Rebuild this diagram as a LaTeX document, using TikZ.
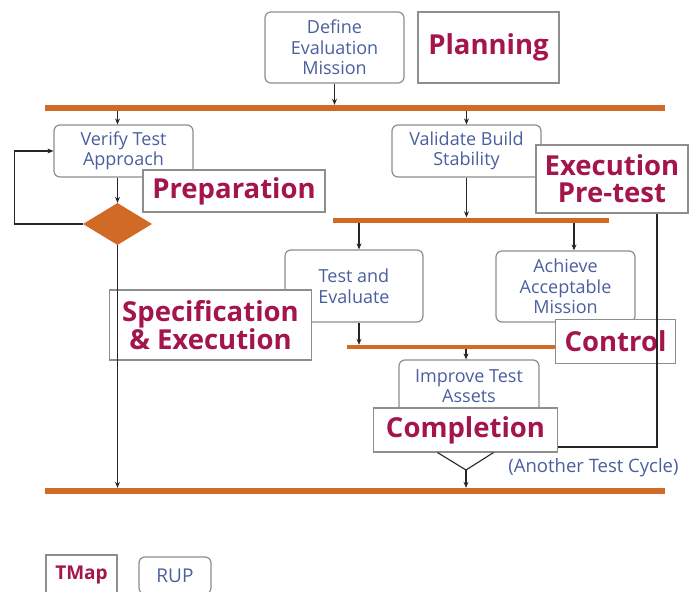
\documentclass[tikz,border=0pt]{standalone}
\usepackage{fontspec}
\setmainfont{Open Sans}
\usetikzlibrary{shapes.geometric,arrows.meta}
\definecolor{bar}{HTML}{D06A24}
\definecolor{phase}{HTML}{A3154B}
\definecolor{rup}{HTML}{4A5FA0}
\definecolor{edge}{HTML}{8E8E8E}
\begin{document}
\begin{tikzpicture}[x=1pt,y=-1pt,
  act/.style={draw=edge,line width=1.2pt,rounded corners=6pt,fill=white,align=center,
    text=rup,font=\fontsize{18}{20.5}\selectfont,inner sep=0pt},
  phasebox/.style={draw=edge,line width=1.1pt,fill=white,align=center,text=phase,
    font=\fontsize{27.5}{27}\selectfont\bfseries,inner sep=0pt},
  forkbar/.style={fill=bar,draw=none,inner sep=0pt,minimum height=6pt},
  flow/.style={line width=1.1pt,draw=black!85,-{Stealth[length=6pt,width=5pt]}},
  plain/.style={line width=1.1pt,draw=black!85}]
\useasboundingbox (0,0) rectangle (689,592);
\fill[white] (0,0) rectangle (689,592);

% bars
\node[forkbar,minimum width=620pt] (topbar) at (355,108) {};
\node[forkbar,minimum width=276pt,minimum height=5pt] (midbar) at (471,220) {};
\node[forkbar,minimum width=253pt,minimum height=4pt] (bar2) at (473.5,347) {};
\node[forkbar,minimum width=620pt] (botbar) at (355,491) {};

% activity boxes
\node[act,minimum width=139pt,minimum height=71pt] (define) at (334.5,47.5) {Define\\Evaluation\\Mission};
\node[act,minimum width=139pt,minimum height=52pt] (verify) at (123.5,151) {Verify Test\\Approach};
\node[act,minimum width=149pt,minimum height=52pt] (validate) at (466.5,151) {Validate Build\\Stability};
\node[act,minimum width=138pt,minimum height=72pt] (test) at (354,286) {Test and\\Evaluate};
\node[act,minimum width=139pt,minimum height=71pt] (achieve) at (565.5,286.5) {Achieve\\Acceptable\\Mission};
\node[act,minimum width=140pt,minimum height=52pt] (improve) at (469,386) {Improve Test\\Assets};

\node[diamond,fill=bar,draw=none,minimum width=69pt,minimum height=42pt,inner sep=0pt] (dec) at (117.5,224) {};

% phase boxes
\node[phasebox,minimum width=141pt,minimum height=71pt] (planning) at (488.5,47.5) {Planning};
\node[phasebox,minimum width=182pt,minimum height=42pt] (prep) at (234,191) {Preparation};
\node[phasebox,minimum width=152pt,minimum height=68pt] (exec) at (612,179) {Execution\\Pre-test};
\node[phasebox,minimum width=202pt,minimum height=70pt] (spec) at (210.5,325) {Specification\\\& Execution};
\node[phasebox,minimum width=120pt,minimum height=44pt] (control) at (615.5,341.5) {Control};
\node[phasebox,minimum width=184pt,minimum height=44pt] (completion) at (465.5,430) {Completion};

\node[text=rup,font=\fontsize{18.5}{20}\selectfont,inner sep=0pt] (cycle) at (593.5,468) {(Another Test Cycle)};

% connectors
\draw[flow] (define.south) -- (define.south |- topbar.north);
\draw[flow] (topbar.south -| dec) -- (verify.north -| dec);
\draw[flow] (verify.south -| dec) -- (dec.north);
\draw[flow] (dec.west) -- ++(-68,0) |- (verify.west);
\draw[flow] (dec.south) -- (botbar.north -| dec);
\draw[flow] (topbar.south -| validate) -- (validate.north);
\draw[flow] (validate.south) -- (midbar.north -| validate);
\coordinate (ta) at (359,0);
\coordinate (aa) at (574,0);
\draw[flow] (midbar.south -| ta) -- (test.north -| ta);
\draw[flow] (midbar.south -| aa) -- (achieve.north -| aa);
\draw[flow] (test.south -| ta) -- (bar2.north -| ta);
\coordinate (ia) at (466,0);
\draw[flow] (bar2.south -| ia) -- (improve.north -| ia);
\coordinate (join) at (466,470);
\draw[plain] ([xshift=-28pt]completion.south) -- (join) -- ([xshift=28pt]completion.south);
\draw[flow] (join) -- (botbar.north -| join);
\draw[plain] ([xshift=45pt]exec.south) -- ([xshift=45pt]exec.south |- 0,447) -- (completion.east |- 0,447);

% legend
\node[phasebox,font=\fontsize{19}{20}\selectfont\bfseries,minimum width=71pt,minimum height=39pt] (tmap) at (81.5,574.5) {TMap};
\node[act,font=\fontsize{19}{20}\selectfont,minimum width=72pt,minimum height=37pt] (rupkey) at (175,575.5) {RUP};
\end{tikzpicture}
\end{document}
